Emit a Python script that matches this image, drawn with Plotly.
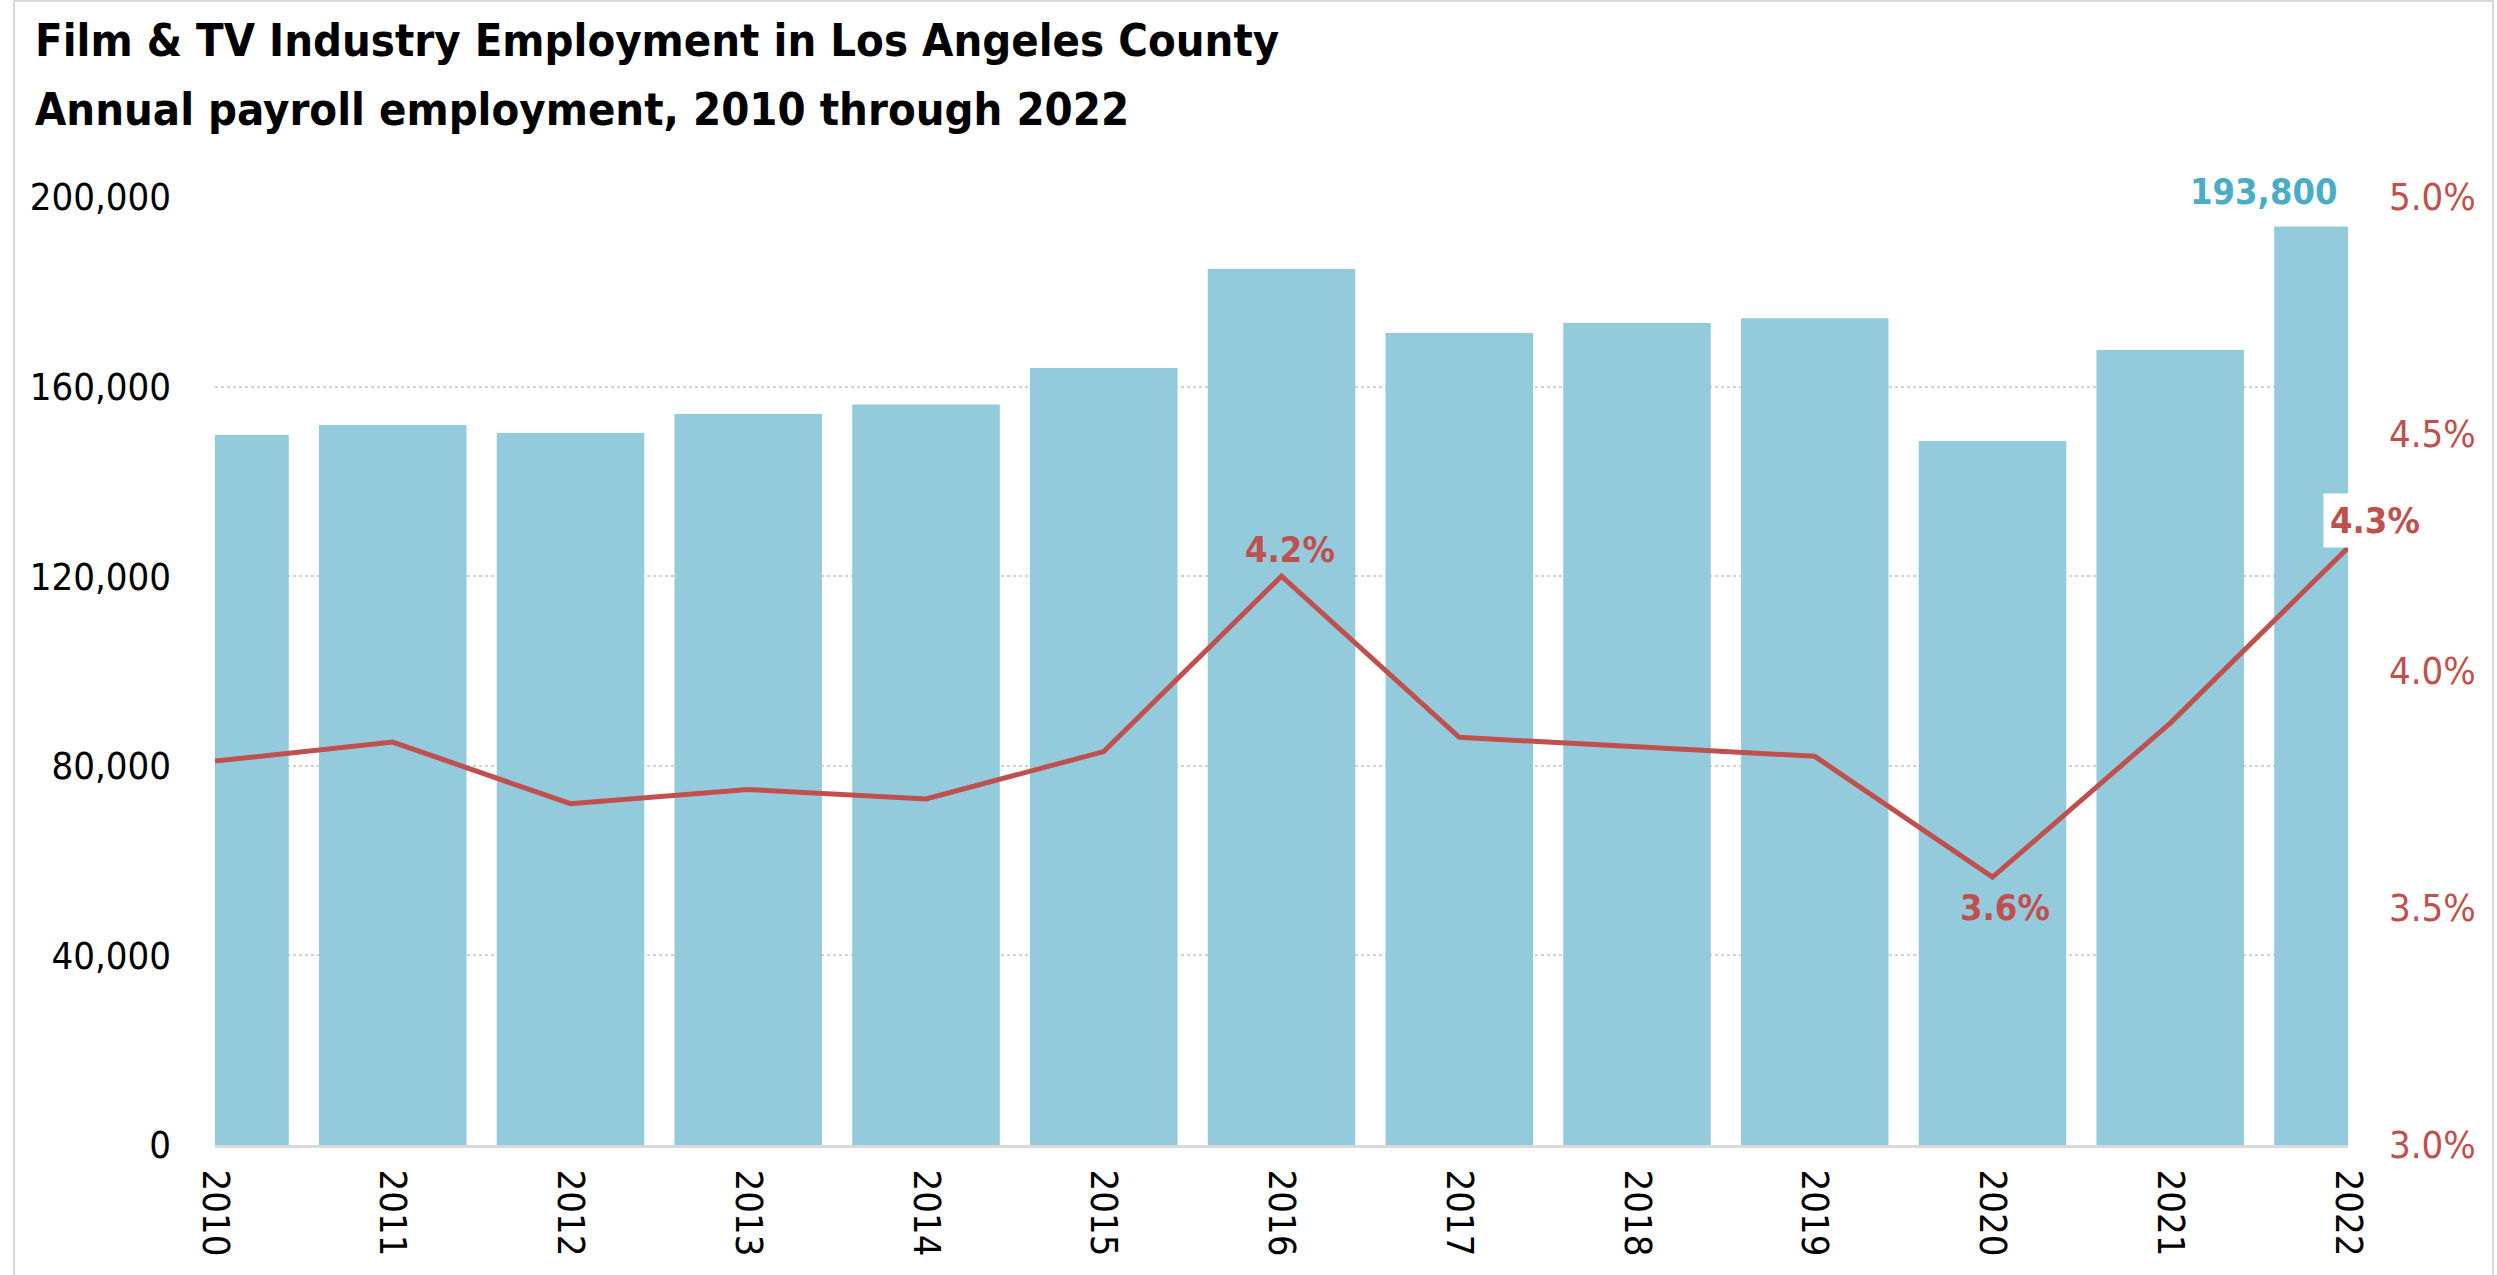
import plotly.graph_objects as go

years = [2010, 2011, 2012, 2013, 2014, 2015, 2016, 2017, 2018, 2019, 2020, 2021, 2022]
employment = [149800, 151900, 150200, 154200, 156200, 163900, 184800, 171300, 173400, 174400, 148500, 167700, 193800]
share_pct = [3.81, 3.85, 3.72, 3.75, 3.73, 3.83, 4.20, 3.86, 3.84, 3.82, 3.565, 3.89, 4.26]
left_ticks = [0, 40000, 80000, 120000, 160000, 200000]
right_ticks = [3.0, 3.5, 4.0, 4.5, 5.0]
title_lines = ["Film & TV Industry Employment in Los Angeles County",
               "Annual payroll employment, 2010 through 2022"]

FONT = "Liberation Sans Narrow, Arial Narrow, DejaVu Sans Condensed, sans-serif"
BAR = "#94CBDC"
RED = "#C0504D"
BLUE = "#4BACC6"

W, H = 2497, 1275
ML, MR, MT, MB = 215, 149, 197, 130
PW = W - ML - MR
PH = H - MT - MB


def px_x(x):
    return (x - ML) / PW


def px_y(y):
    return (MT + PH - y) / PH


fig = go.Figure()
fig.add_trace(go.Bar(x=years, y=employment, marker_color=BAR, marker_line_width=0,
                     width=0.83, yaxis="y", showlegend=False, hoverinfo="skip"))
fig.add_trace(go.Scatter(x=years, y=share_pct, mode="lines", line=dict(color=RED, width=5),
                         yaxis="y2", showlegend=False, hoverinfo="skip"))

annotations = [
    dict(x=px_x(33), y=px_y(40), xref="paper", yref="paper", text=f"<b>{title_lines[0]}</b>",
         showarrow=False, xanchor="left", yanchor="middle",
         font=dict(family=FONT, size=45, color="black")),
    dict(x=px_x(33), y=px_y(110), xref="paper", yref="paper", text=f"<b>{title_lines[1]}</b>",
         showarrow=False, xanchor="left", yanchor="middle",
         font=dict(family=FONT, size=45, color="black")),
    dict(x=2016, y=4.20, xref="x", yref="y2", text="<b>4.2%</b>", showarrow=False,
         xanchor="center", yanchor="bottom", yshift=4, xshift=8,
         font=dict(family=FONT, size=36, color=RED)),
    dict(x=2020, y=3.565, xref="x", yref="y2", text="<b>3.6%</b>", showarrow=False,
         xanchor="center", yanchor="top", yshift=-8, xshift=12,
         font=dict(family=FONT, size=36, color=RED)),
    dict(x=2022, y=4.26, xref="x", yref="y2", text="<b>4.3%</b>", showarrow=False,
         xanchor="left", yanchor="bottom", xshift=-25, yshift=0, bgcolor="white",
         borderpad=6, font=dict(family=FONT, size=36, color=RED)),
    dict(x=2022, y=193800, xref="x", yref="y", text="<b>193,800</b>", showarrow=False,
         xanchor="right", yanchor="bottom", xshift=-8, yshift=12,
         font=dict(family=FONT, size=36, color=BLUE)),
]

fig.update_layout(
    width=W, height=H,
    margin=dict(l=ML, r=MR, t=MT, b=MB, pad=0, autoexpand=False),
    paper_bgcolor="white", plot_bgcolor="white",
    font=dict(family=FONT, size=38, color="black"),
    bargap=0.17,
    xaxis=dict(range=[2010, 2022], tickmode="array", tickvals=years, ticktext=[str(y) for y in years],
               tickangle=90, showgrid=False, zeroline=False, showline=True, linecolor="#d9d9d9",
               linewidth=3, ticks="", ticklabelstandoff=14, automargin=False,
               tickfont=dict(size=38, color="black")),
    yaxis=dict(range=[0, 200000], tickmode="array", tickvals=left_ticks,
               ticktext=[f"{v:,}" for v in left_ticks], showgrid=True, gridcolor="#d0d0d0",
               griddash="dot", gridwidth=2, zeroline=False, showline=False, ticks="",
               ticklabelstandoff=43, automargin=False, tickfont=dict(size=38, color="black")),
    yaxis2=dict(range=[3, 5], overlaying="y", side="right", tickmode="array", tickvals=right_ticks,
                ticktext=[f"{v:.1f}%" for v in right_ticks], showgrid=False, zeroline=False,
                showline=False, ticks="", ticklabelstandoff=40, automargin=False,
                tickfont=dict(size=38, color=RED)),
    shapes=[dict(type="rect", xref="paper", yref="paper",
                 x0=px_x(14), x1=px_x(2493), y0=px_y(1290), y1=px_y(1),
                 line=dict(color="#d9d9d9", width=2), fillcolor="rgba(0,0,0,0)", layer="below")],
    annotations=annotations,
)

fig.write_html("out.html")
